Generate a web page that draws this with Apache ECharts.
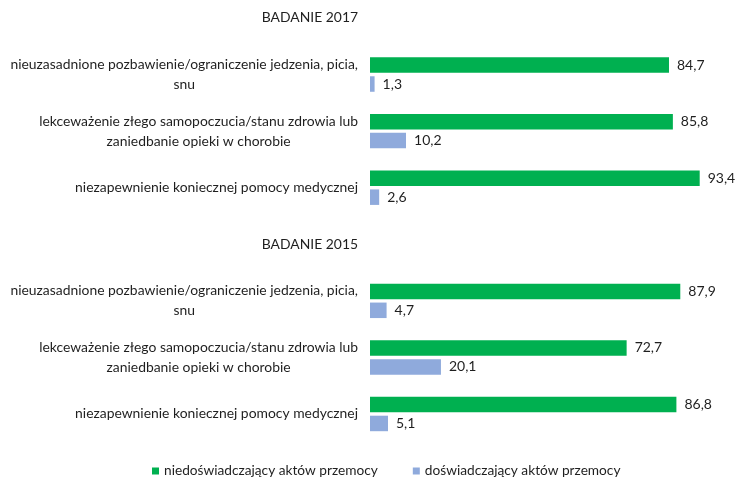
<!DOCTYPE html>
<html><head><meta charset="utf-8">
<script src="https://cdn.jsdelivr.net/npm/echarts@6/dist/echarts.min.js"></script>
<style>html,body{margin:0;padding:0;background:#fff}#c{width:737px;height:480px}</style>
</head><body><div id="c"></div>
<script>
const categories = [
  'BADANIE 2017',
  'nieuzasadnione pozbawienie/ograniczenie jedzenia, picia,\nsnu',
  'lekceważenie złego samopoczucia/stanu zdrowia lub\nzaniedbanie opieki w chorobie',
  'niezapewnienie koniecznej pomocy medycznej',
  'BADANIE 2015',
  'nieuzasadnione pozbawienie/ograniczenie jedzenia, picia,\nsnu',
  'lekceważenie złego samopoczucia/stanu zdrowia lub\nzaniedbanie opieki w chorobie',
  'niezapewnienie koniecznej pomocy medycznej'
];
const seriesNames = ['niedoświadczający aktów przemocy', 'doświadczający aktów przemocy'];
const notExperiencing = [null, 84.7, 85.8, 93.4, null, 87.9, 72.7, 86.8];
const experiencing = [null, 1.3, 10.2, 2.6, null, 4.7, 20.1, 5.1];

const FONT = 'Lato';
const TXT = '#1f1f1f';
const chart = echarts.init(document.getElementById('c'), null, {renderer: 'canvas'});
const lbl = {
  show: true, position: 'right', distance: 8, color: TXT,
  fontFamily: FONT, fontSize: 14,
  formatter: p => p.value == null ? '' : String(p.value.toFixed(1)).replace('.', ',')
};
chart.setOption({
  animation: false,
  grid: {left: 370, right: 14, top: 18, bottom: 66},
  xAxis: {type: 'value', min: 0, max: 100, show: false},
  yAxis: {
    type: 'category', data: categories, inverse: true, boundaryGap: false,
    axisLine: {show: false}, axisTick: {show: false}, splitLine: {show: false},
    axisLabel: {
      margin: 12, color: TXT, fontFamily: FONT, fontSize: 13.9, lineHeight: 20,
      formatter: v => v.split('\n').map(s => '{c|' + s + '}').join('\n'),
      rich: {c: {align: 'center', fontFamily: FONT, fontSize: 13.9, lineHeight: 20, color: TXT}}
    }
  },
  legend: {
    top: 459, left: 147, icon: 'rect', itemWidth: 7, itemHeight: 7, itemGap: 35,
    textStyle: {color: TXT, fontFamily: FONT, fontSize: 13.7},
    data: seriesNames
  },
  series: [
    {name: seriesNames[0], type: 'bar', data: notExperiencing, barWidth: 15.5, barGap: '22%',
     itemStyle: {color: '#00B050'}, label: lbl},
    {name: seriesNames[1], type: 'bar', data: experiencing, barWidth: 15.5, barGap: '22%',
     itemStyle: {color: '#8FAADC'}, label: lbl}
  ]
});
</script></body></html>
